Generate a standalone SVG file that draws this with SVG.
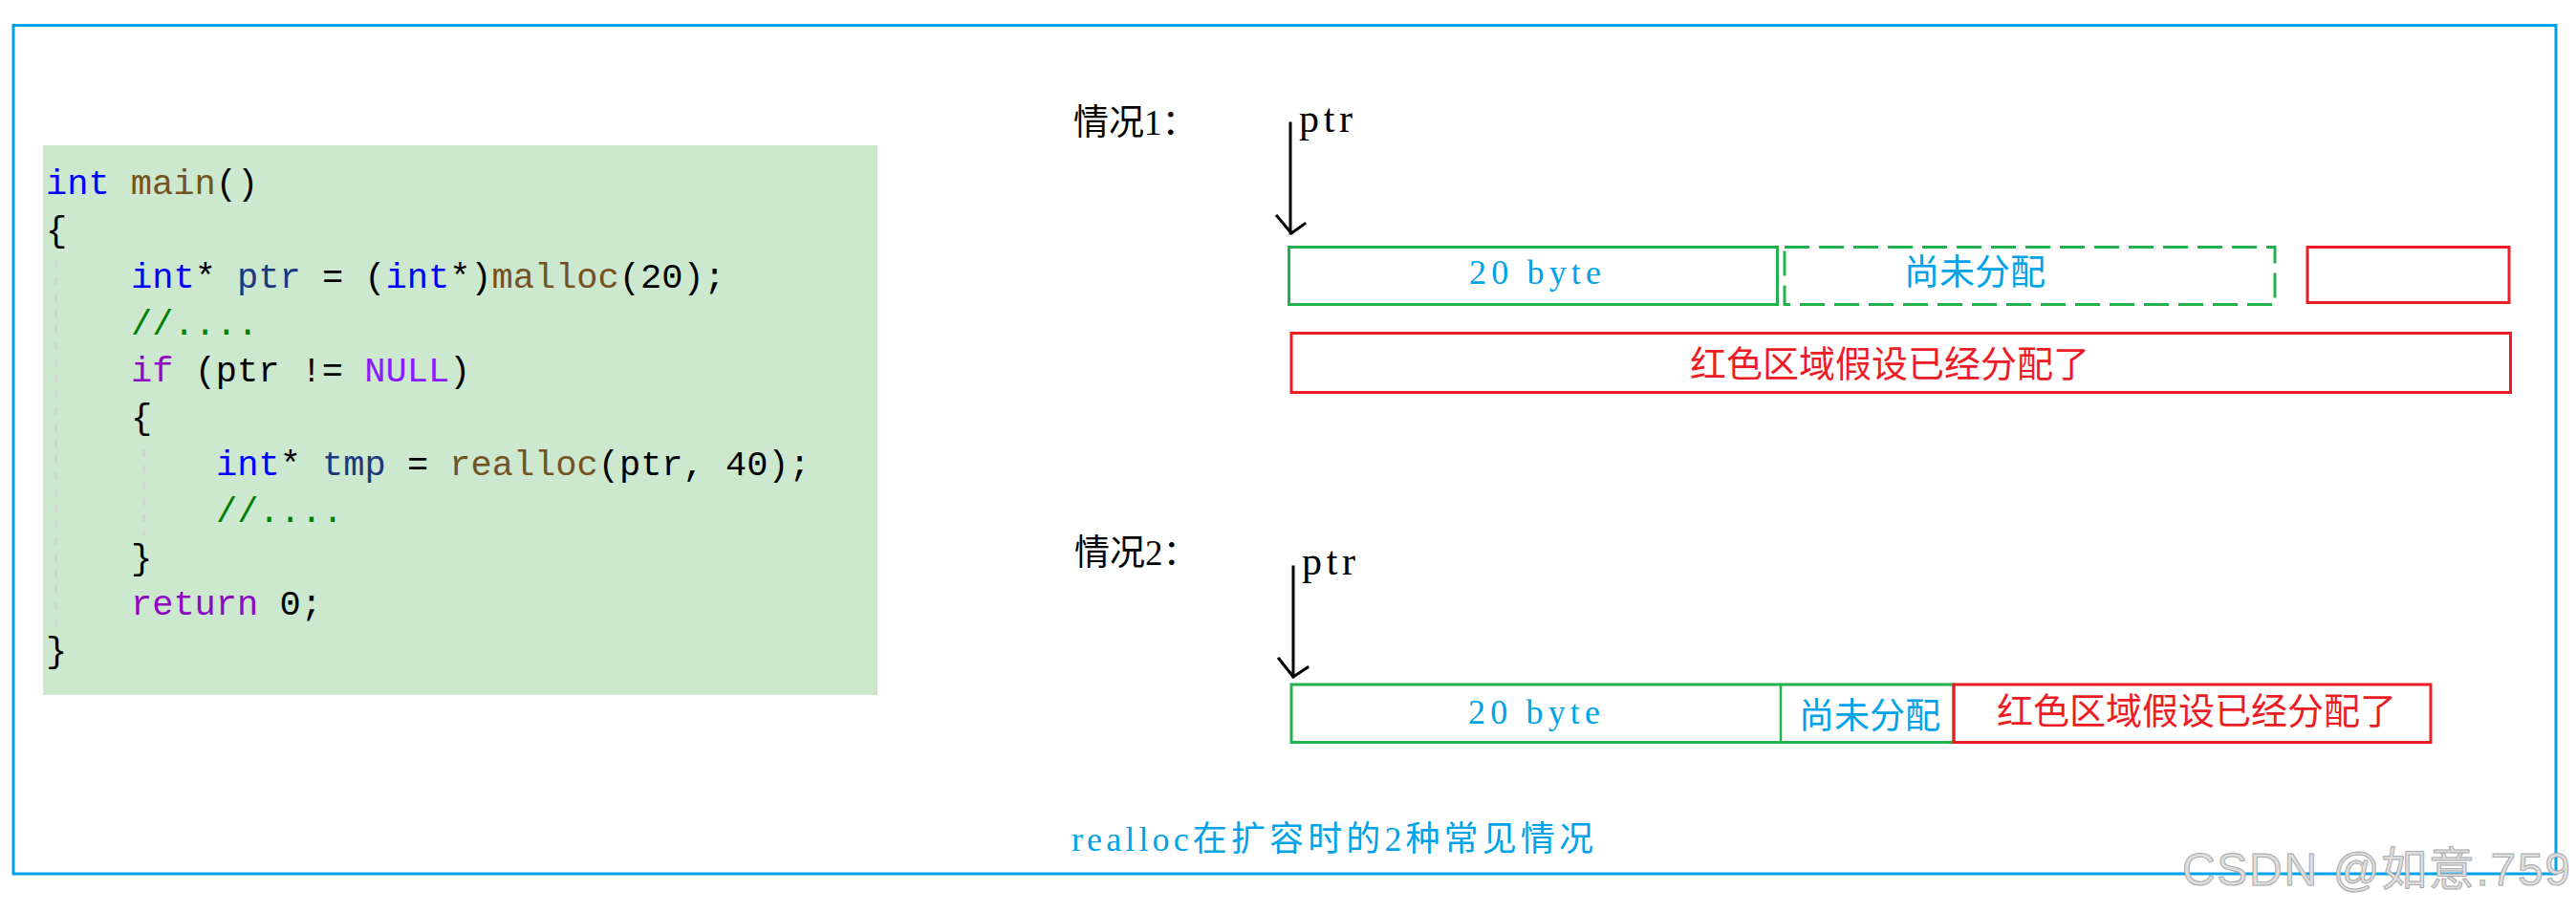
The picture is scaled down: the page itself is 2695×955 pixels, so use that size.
<svg xmlns="http://www.w3.org/2000/svg" width="2695" height="955" viewBox="0 0 2695 955">
<style>
.frame{fill:#ffffff;stroke:#00a2e8;stroke-width:3}
.code{font-family:"Liberation Mono","DejaVu Sans Mono",monospace;font-size:37px;fill:#000000}
.kw{fill:#0000ff}.fn{fill:#74531f}.var{fill:#1f377f}.cm{fill:#008000}.ctl{fill:#8f08c4}.mac{fill:#8a1bff}
.guide{stroke:#d9d1d9;stroke-width:3;stroke-dasharray:8 9;fill:none}
.title{font-family:"Liberation Serif","Noto Sans CJK SC",serif;font-size:37px;fill:#000000}
.ptr{font-family:"Liberation Serif",serif;font-size:42px;fill:#000000}
.lat{font-family:"Liberation Serif","Noto Sans CJK SC",serif;font-size:36px;fill:#00a2e8}
.cjkb{font-family:"Noto Sans CJK SC",sans-serif;font-size:37px;fill:#00a2e8}
.cjkr{font-family:"Noto Sans CJK SC",sans-serif;font-size:38px;fill:#ed1c24}
.gbox{fill:none;stroke:#22b14c;stroke-width:3}
.gdash{fill:none;stroke:#22b14c;stroke-width:3;stroke-dasharray:26 10}
.rbox{fill:none;stroke:#ed1c24;stroke-width:3}
.arrow{fill:none;stroke:#000000;stroke-width:3;stroke-linecap:square}
</style>
<rect x="0" y="0" width="2695" height="955" fill="#ffffff"/>
<rect class="frame" x="14" y="26.5" width="2660" height="887.5"/>

<g id="code">
<rect x="45" y="152" width="873" height="575" fill="#cce8cf"/>
<line class="guide" x1="58.5" y1="273" x2="58.5" y2="657"/>
<line class="guide" x1="150.5" y1="470" x2="150.5" y2="560"/>
<text class="code" x="48" y="203"><tspan class="kw">int</tspan> <tspan class="fn">main</tspan>()</text>
<text class="code" x="48" y="252">{</text>
<text class="code" x="137" y="301" xml:space="preserve"><tspan class="kw">int</tspan>* <tspan class="var">ptr</tspan> = (<tspan class="kw">int</tspan>*)<tspan class="fn">malloc</tspan>(20);</text>
<text class="code cm" x="137" y="350">//....</text>
<text class="code" x="137" y="399" xml:space="preserve"><tspan class="ctl">if</tspan> (ptr != <tspan class="mac">NULL</tspan>)</text>
<text class="code" x="137" y="448">{</text>
<text class="code" x="226" y="497" xml:space="preserve"><tspan class="kw">int</tspan>* <tspan class="var">tmp</tspan> = <tspan class="fn">realloc</tspan>(ptr, 40);</text>
<text class="code cm" x="226" y="546">//....</text>
<text class="code" x="137" y="595">}</text>
<text class="code" x="137" y="643" xml:space="preserve"><tspan class="ctl">return</tspan> 0;</text>
<text class="code" x="48" y="692">}</text>
</g>

<g id="case1-label"><text class="title" x="1123" y="141">情况1：</text></g>
<g id="case1-ptr"><text class="ptr" x="1359" y="138" textLength="56" lengthAdjust="spacing">ptr</text></g>
<g id="case1-used">
<rect class="gbox" x="1348.5" y="258.5" width="511" height="60"/>
<text class="lat" x="1537" y="297" textLength="138" lengthAdjust="spacing">20 byte</text>
</g>
<g id="case1-free">
<rect class="gdash" x="1867" y="258.5" width="513" height="60"/>
<text class="cjkb" x="1992" y="298">尚未分配</text>
</g>
<g id="case1-red-small"><rect class="rbox" x="2414" y="258.5" width="211" height="58"/></g>
<g id="case1-red-big">
<rect class="rbox" x="1351" y="348.5" width="1275.5" height="62"/>
<text class="cjkr" x="1768" y="394">红色区域假设已经分配了</text>
</g>

<g id="case2-label"><text class="title" x="1124" y="591">情况2：</text></g>
<g id="case2-ptr"><text class="ptr" x="1362" y="601" textLength="56" lengthAdjust="spacing">ptr</text></g>
<g id="case2-used">
<rect class="gbox" x="1351" y="716" width="693" height="60.5"/>
<text class="lat" x="1536" y="757" textLength="138" lengthAdjust="spacing">20 byte</text>
</g>
<g id="case2-free">
<line x1="1863" y1="716" x2="1863" y2="776.5" stroke="#22b14c" stroke-width="2.5"/>
<text class="cjkb" x="1882" y="762">尚未分配</text>
</g>
<g id="case2-red">
<rect class="rbox" x="2044" y="716" width="499" height="60.5"/>
<text class="cjkr" x="2089" y="757">红色区域假设已经分配了</text>
</g>

<g id="connectors">
<path class="arrow" d="M1350 129 V244 M1336 226 L1351 244 L1365 234"/>
<path class="arrow" d="M1353 593 V708 M1338 689 L1353 708 L1368 698"/>
</g>

<g id="caption">
<text class="lat" x="1121" y="890" textLength="546" lengthAdjust="spacing">realloc在扩容时的2种常见情况</text>
</g>
<g id="watermark">
<text x="2283" y="926" font-family="'Liberation Sans','Noto Sans CJK SC',sans-serif" font-size="48" fill="#dedede" stroke="#aaaaaa" stroke-width="1" textLength="406" lengthAdjust="spacing">CSDN @如意.759</text>
</g>
</svg>
